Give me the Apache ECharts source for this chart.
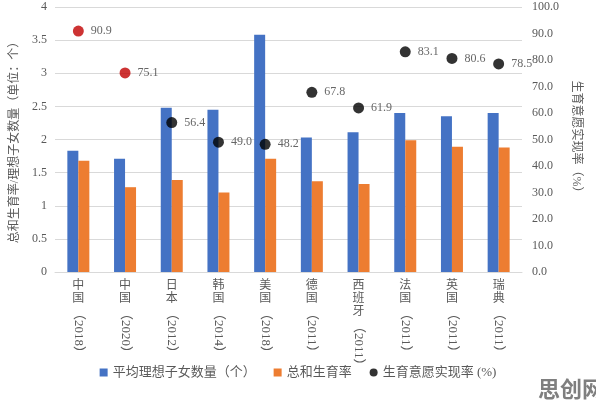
<!DOCTYPE html>
<html><head><meta charset="utf-8">
<script src="https://cdn.jsdelivr.net/npm/echarts@6/dist/echarts.min.js"></script>
<style>html,body{margin:0;padding:0;background:#fff}#c{width:596px;height:406px}</style>
</head><body><div id="c"></div>
<script>
const countries = ['中国','中国','日本','韩国','美国','德国','西班牙','法国','英国','瑞典'];
const years = ['2018','2020','2012','2014','2018','2011','2011','2011','2011','2011'];
const idealChildren = [1.83,1.71,2.48,2.45,3.58,2.03,2.11,2.40,2.35,2.40];
const fertilityRate = [1.68,1.28,1.39,1.20,1.71,1.37,1.33,1.99,1.89,1.88];
const realizationRate = [90.9,75.1,56.4,49.0,48.2,67.8,61.9,83.1,80.6,78.5];
const highlightIdx = [0,1];
const leftTicks = {min:0,max:4,interval:0.5};
const rightTicks = {min:0,max:100,interval:10};

const cats = countries.map((c,i)=>c+'（'+years[i]+'）');
const FONT = "'Liberation Serif','Noto Sans CJK SC',serif";
const gray = '#595959';
const chart = echarts.init(document.getElementById('c'));
chart.setOption({
  animation:false,
  textStyle:{fontFamily:FONT},
  grid:{left:55,right:74,top:7,bottom:134},
  legend:{
    bottom:22,left:'center',itemGap:18,itemWidth:8,itemHeight:8,
    textStyle:{color:gray,fontSize:13,fontFamily:FONT},
    data:[{name:'平均理想子女数量（个）',icon:'rect'},{name:'总和生育率',icon:'rect'},{name:'生育意愿实现率 (%)',icon:'circle'}]
  },
  xAxis:[{
    type:'category',data:cats,
    axisLine:{lineStyle:{color:'#D9D9D9'}},axisTick:{show:false},
    axisLabel:{interval:0,margin:7,color:gray,fontSize:12,lineHeight:13,fontFamily:FONT,
      formatter:(v,i)=>countries[i].split('').join('\n')}
  },{
    type:'category',data:cats,position:'bottom',offset:26,
    axisLine:{show:false},axisTick:{show:false},
    axisLabel:{interval:0,margin:9,rotate:-90,color:gray,fontSize:13,fontFamily:FONT,
      formatter:(v,i)=>(countries[i].length>2?'{p|}':'')+'{y|（'+years[i]+'）}',
      rich:{p:{width:13},y:{color:gray,fontSize:13,fontFamily:FONT}}}
  }],
  yAxis:[{
    type:'value',min:leftTicks.min,max:leftTicks.max,interval:leftTicks.interval,
    name:'总和生育率/理想子女数量（单位：个）',nameLocation:'middle',nameGap:28,
    nameTextStyle:{color:gray,fontSize:12,fontFamily:FONT},
    axisLine:{show:false},axisTick:{show:false},
    axisLabel:{color:gray,fontSize:12,margin:8},
    splitLine:{lineStyle:{color:'#D9D9D9'}}
  },{
    type:'value',min:rightTicks.min,max:rightTicks.max,interval:rightTicks.interval,
    name:'生育意愿实现率（%）',nameLocation:'middle',nameGap:38,nameRotate:-90,
    nameTextStyle:{color:gray,fontSize:12,fontFamily:FONT},
    axisLine:{show:false},axisTick:{show:false},
    axisLabel:{color:gray,fontSize:12,margin:10,formatter:v=>v.toFixed(1)},
    splitLine:{show:false}
  }],
  series:[{
    name:'平均理想子女数量（个）',type:'bar',data:idealChildren,barWidth:11,barGap:'0%',
    itemStyle:{color:'#4472C4'}
  },{
    name:'总和生育率',type:'bar',data:fertilityRate,barWidth:11,
    itemStyle:{color:'#ED7D31'}
  },{
    name:'生育意愿实现率 (%)',type:'scatter',yAxisIndex:1,symbolSize:11,z:5,
    itemStyle:{color:'#000'},
    data:realizationRate.map((v,i)=>highlightIdx.includes(i)?{value:v,itemStyle:{color:'#C00000'}}:v),
    label:{show:true,position:'right',distance:7,color:'#404040',fontSize:12,fontFamily:FONT,
      formatter:p=>Number(p.value).toFixed(1)}
  }],
  graphic:[{type:'text',right:-8,bottom:6,style:{text:'思创网',fontSize:22,fontWeight:'bold',fill:'#7f7f7f',fontFamily:"'Noto Sans CJK SC'"}}]
});
</script></body></html>
